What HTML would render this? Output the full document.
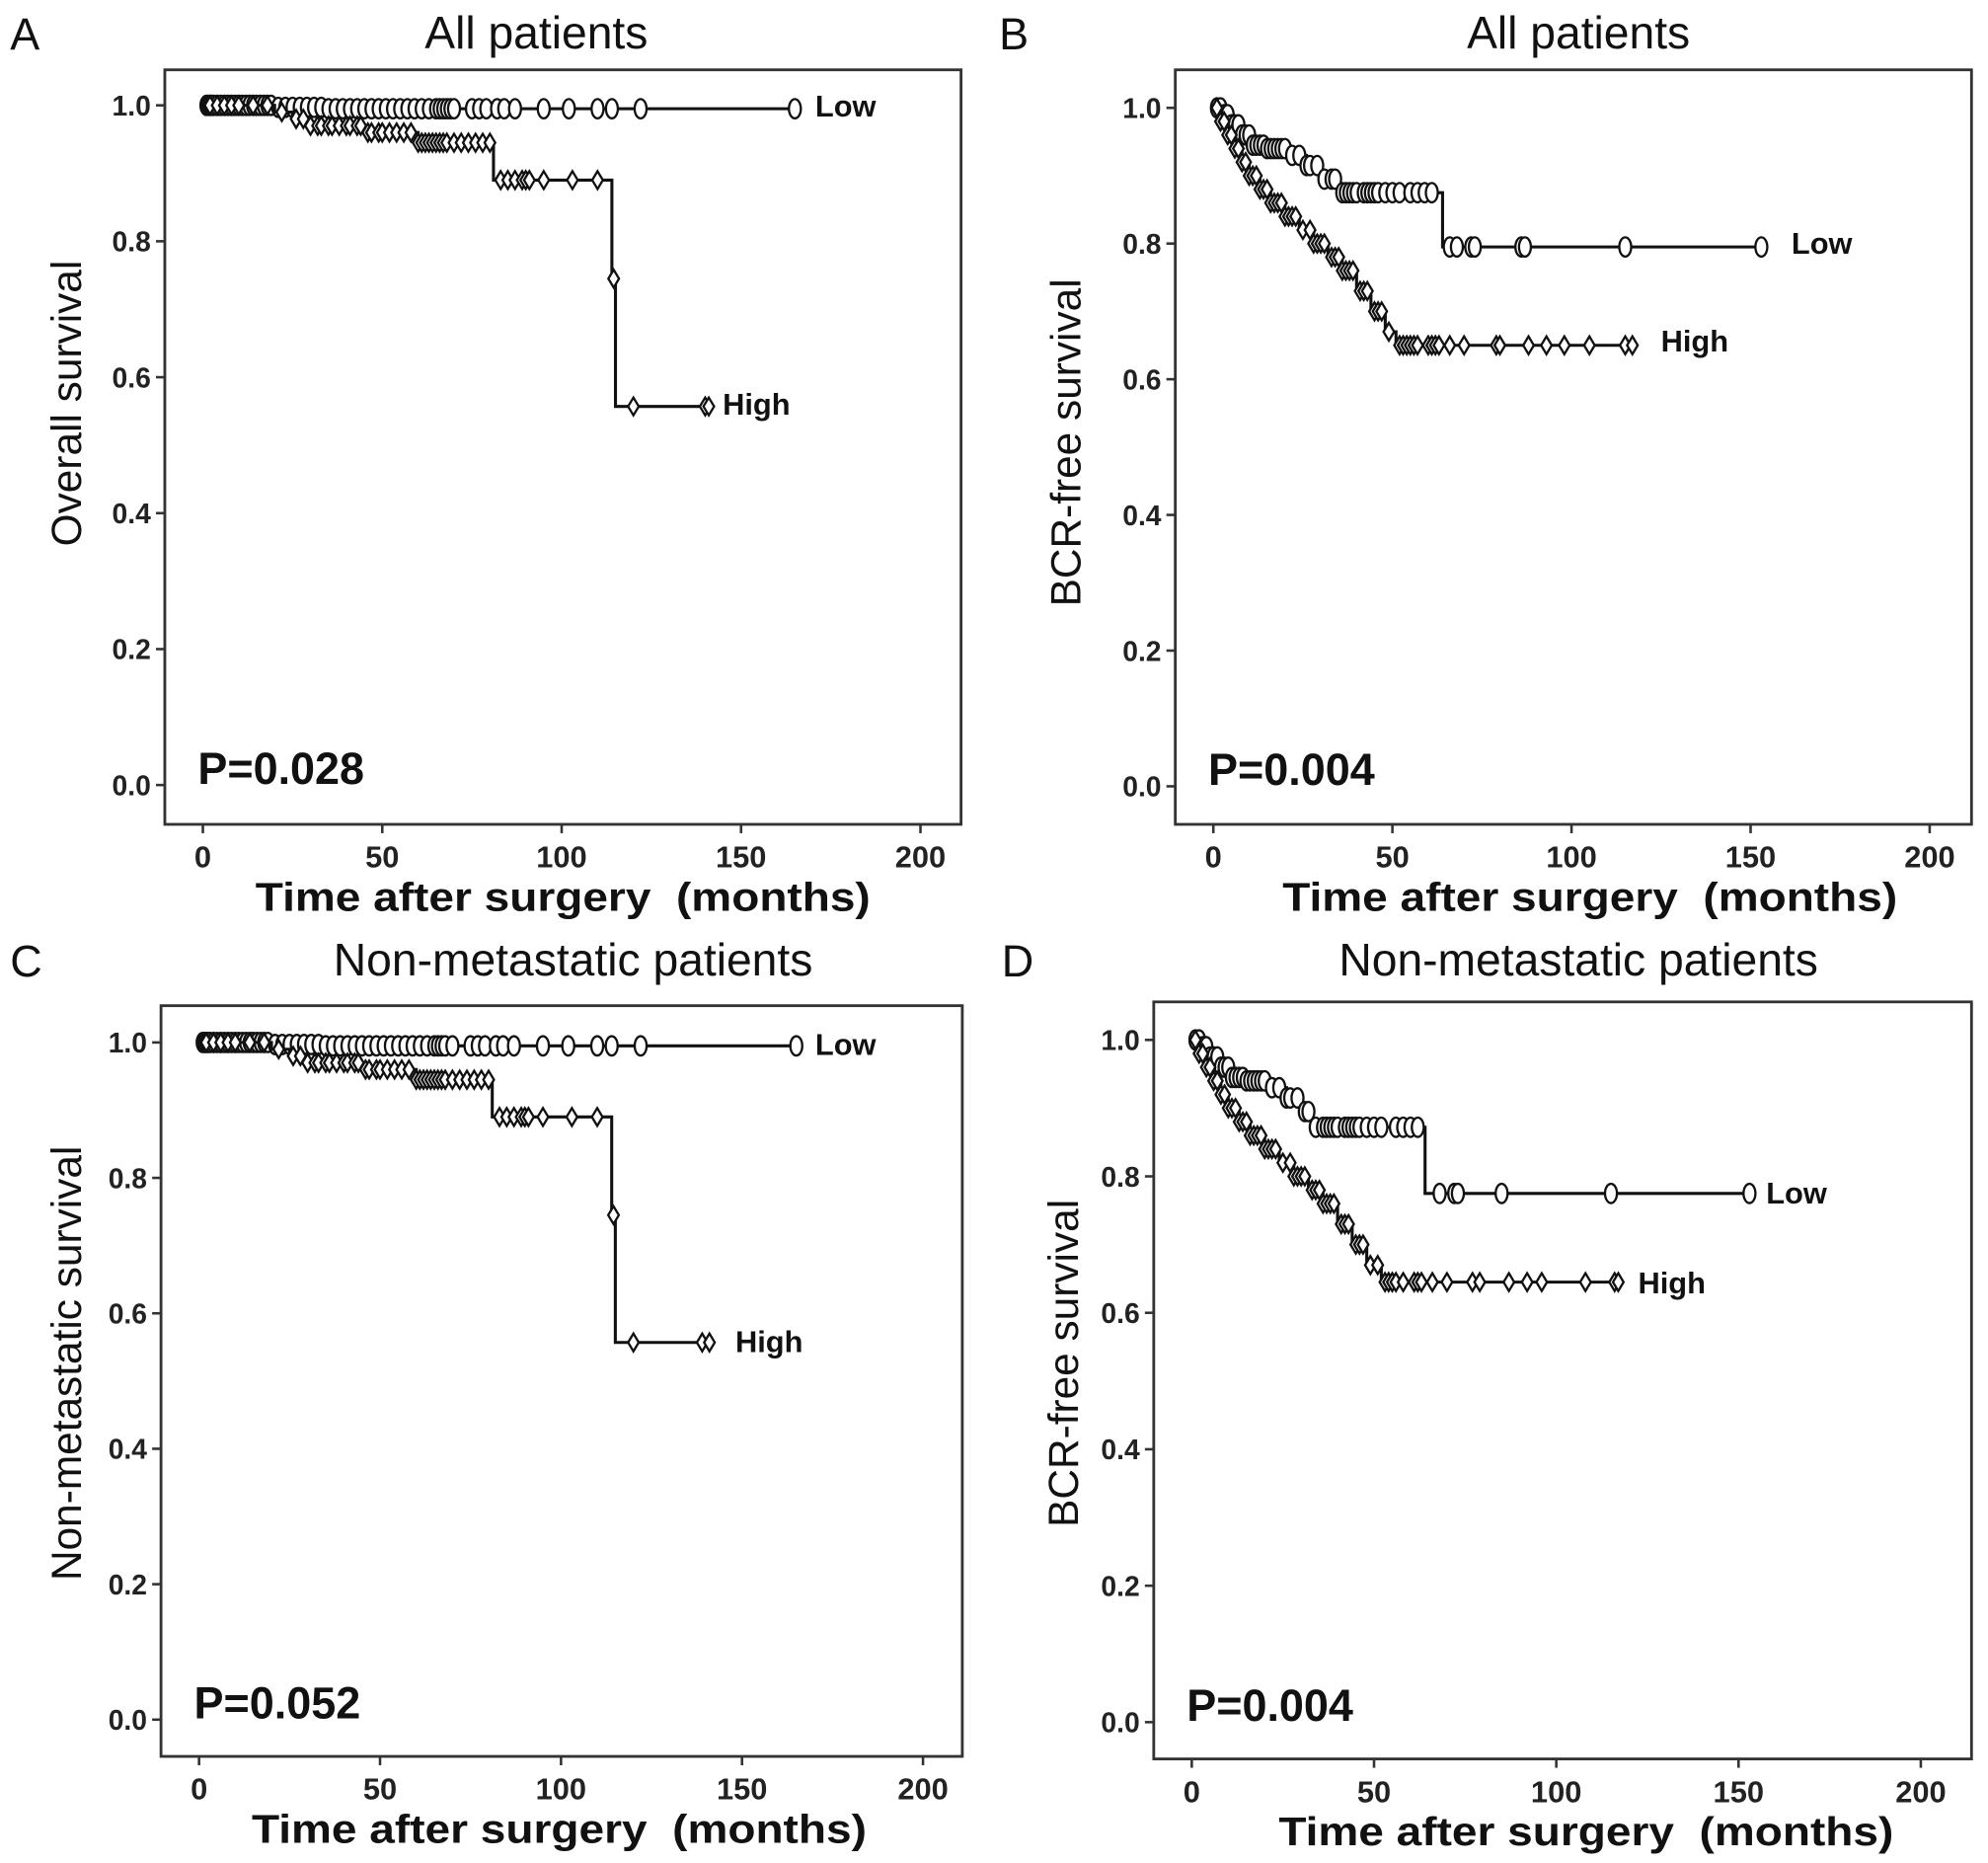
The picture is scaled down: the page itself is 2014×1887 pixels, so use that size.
<!DOCTYPE html>
<html><head><meta charset="utf-8">
<style>
html,body{margin:0;padding:0;background:#fff;}
svg{display:block;font-family:"Liberation Sans",Arial,sans-serif;}
</style></head>
<body>
<svg id="fig" width="2014" height="1887" viewBox="0 0 1568 1469" xmlns="http://www.w3.org/2000/svg"></svg>
<script>
// ---- Data (time in months, survival proportion) ----
const xTicks = [0, 50, 100, 150, 200];
const yTicks = [0.0, 0.2, 0.4, 0.6, 0.8, 1.0];
const yTickLabels = ["0.0", "0.2", "0.4", "0.6", "0.8", "1.0"];

// Panel A
const aLowStepT = [0, 20, 35];
const aLowStepS = [1.0, 0.997, 0.995];
const aLowCens = [1,1.5,2,2.5,3,4,5,6,7,8,9,10,11,12,13,14,15,16,17,18,19,21,23,25,27,29,31,33,35,37,39,41,43,45,47,49,51,53,55,57,59,61,63,65,66,67,68,69,70,75,77,79,82,84,87,95,102,110,114,122,165];
const aHighStepT = [0, 20, 25, 30, 45, 60, 81, 114, 115];
const aHighStepS = [1.0, 0.99, 0.98, 0.97, 0.96, 0.945, 0.89, 0.745, 0.557];
const aHighCens = [2,4,6,8,10,14,18,22,26,28,30,32,33,35,36,38,40,41,43,44,46,47,49,50,52,54,56,58,60,61,62,63,64,65,66,67,68,70,72,74,76,78,80,83,85,87,89,90,91,95,103,110,114.5,120,140,141];

// Panel B
const bLowStepT = [0, 3, 5, 8, 11, 15, 21, 26, 30, 35, 64];
const bLowStepS = [1.0, 0.99, 0.975, 0.96, 0.945, 0.94, 0.93, 0.915, 0.895, 0.875, 0.795];
const bLowCens = [1,2,3,4,5,6,7,8,9,10,11,12,13,14,15,16,17,18,19,20,22,24,26,27,29,31,33,34,36,37,38,39,40,42,43,44,45,46,48,50,52,55,57,59,61,66,68,72,73,86,87,115,153];
const bHighStepT = [0, 2, 4, 6, 8, 10, 13, 16, 20, 24, 28, 32, 36, 40, 44, 48, 51];
const bHighStepS = [1.0, 0.98, 0.96, 0.94, 0.92, 0.9, 0.88, 0.86, 0.84, 0.82, 0.8, 0.78, 0.76, 0.73, 0.7, 0.67, 0.65];
const bHighCens = [1,2,3,4,5,6,7,8,9,10,11,12,13,14,15,16,17,18,19,20,21,22,23,25,27,28,29,30,31,33,34,35,36,37,38,39,41,42,43,45,46,47,49,52,53,54,55,56,57,60,61,62,63,66,70,79,80,88,93,98,105,115,117];

// Panel C
const cLowStepT = [0, 20, 35];
const cLowStepS = [1.0, 0.997, 0.995];
const cLowCens = [1,1.5,2,2.5,3,4,5,6,7,8,9,10,11,12,13,14,15,16,17,18,19,21,23,25,27,29,31,33,35,37,39,41,43,45,47,49,51,53,55,57,59,61,63,65,66,67,68,70,75,77,79,82,84,87,95,102,110,114,122,165];
const cHighStepT = [0, 20, 25, 30, 45, 60, 81, 114, 115];
const cHighStepS = [1.0, 0.99, 0.98, 0.97, 0.96, 0.945, 0.89, 0.745, 0.557];
const cHighCens = [2,4,6,8,10,14,18,22,26,28,30,32,33,35,36,38,40,41,43,44,46,47,49,50,52,54,56,58,60,61,62,63,64,65,66,67,68,70,72,74,76,78,80,83,85,87,89,90,91,95,103,110,114.5,120,139,141];

// Panel D
const dLowStepT = [0, 3, 5, 8, 11, 15, 21, 26, 30, 33, 64];
const dLowStepS = [1.0, 0.99, 0.975, 0.96, 0.945, 0.94, 0.93, 0.915, 0.895, 0.872, 0.775];
const dLowCens = [1,2,3,4,5,6,7,8,9,10,11,12,13,14,15,16,17,18,19,20,22,24,26,27,29,31,32,34,36,37,38,39,40,42,43,44,45,46,48,50,52,56,58,60,62,68,72,73,85,115,153];
const dHighStepT = [0, 2, 4, 6, 8, 10, 13, 16, 20, 24, 28, 32, 36, 40, 44, 48, 52];
const dHighStepS = [1.0, 0.98, 0.96, 0.94, 0.92, 0.9, 0.88, 0.86, 0.84, 0.82, 0.8, 0.78, 0.76, 0.73, 0.7, 0.67, 0.645];
const dHighCens = [1,2,3,4,5,6,7,8,9,10,11,12,13,14,15,16,17,18,19,20,21,22,23,25,27,28,29,30,31,33,34,35,36,37,38,39,41,42,43,45,46,47,49,51,53,54,55,56,58,61,62,63,66,70,77,79,87,92,96,108,116,117];

const panels = [
  {id:'a', letter:'A', title:'All patients', ytitle:'Overall survival', p:'P=0.028',
   frame:[130,55,758,650], x0:160, x200:726, y1:83, y0:619, titleX:423, titleY:38, letterX:8,
   low:[aLowStepT,aLowStepS,aLowCens,165], high:[aHighStepT,aHighStepS,aHighCens,141], lowLab:[643,92], highLab:[570,327], ytx:64, ycy:318, xtx:444},
  {id:'b', letter:'B', title:'All patients', ytitle:'BCR-free survival', p:'P=0.004',
   frame:[927,55,1555,650], x0:957, x200:1522, y1:85, y0:620, titleX:1245, titleY:38, letterX:788,
   low:[bLowStepT,bLowStepS,bLowCens,153], high:[bHighStepT,bHighStepS,bHighCens,117], lowLab:[1413,200], highLab:[1310,277], ytx:852, ycy:349, xtx:1254},
  {id:'c', letter:'C', title:'Non-metastatic patients', ytitle:'Non-metastatic survival', p:'P=0.052',
   frame:[127,793,759,1385], x0:157, x200:728, y1:822, y0:1356, titleX:452, titleY:769, letterX:8,
   low:[cLowStepT,cLowStepS,cLowCens,165], high:[cHighStepT,cHighStepS,cHighCens,141], lowLab:[643,832], highLab:[580,1066], ytx:64, ycy:1075, xtx:441},
  {id:'d', letter:'D', title:'Non-metastatic patients', ytitle:'BCR-free survival', p:'P=0.004',
   frame:[910,790,1555,1387], x0:940, x200:1515, y1:820, y0:1358, titleX:1245, titleY:769, letterX:790,
   low:[dLowStepT,dLowStepS,dLowCens,153], high:[dHighStepT,dHighStepS,dHighCens,117], lowLab:[1393,949], highLab:[1292,1020], ytx:850, ycy:1075, xtx:1251}
];

const NS = 'http://www.w3.org/2000/svg';
const svg = document.getElementById('fig');
function mk(tag, attrs, parent){
  const e = document.createElementNS(NS, tag);
  for (const k in attrs) e.setAttribute(k, attrs[k]);
  (parent||svg).appendChild(e);
  return e;
}
function survAt(T, S, t){
  let s = S[0];
  for (let i=0;i<T.length;i++){ if (T[i] <= t) s = S[i]; }
  return s;
}

panels.forEach(p => {
  const g = mk('g', {});
  
  
  const xs = t => p.x0 + (p.x200 - p.x0) * t / 200;
  const ys = v => p.y0 + (p.y1 - p.y0) * v;
  const [fl, ft, fr, fb] = p.frame;

  const fr_ = mk('rect', {x:fl, y:ft, width:fr-fl, height:fb-ft, fill:'none', stroke:'#333', 'stroke-width':2.2}, g);
  
  

  const lt = mk('text', {x:p.letterX, y:p.titleY+1, 'font-size':35, fill:'#111'}, g);
  lt.textContent = p.letter;
  
  

  const tt = mk('text', {x:p.titleX, y:p.titleY, 'font-size':36, 'text-anchor':'middle', fill:'#111'}, g);
  tt.textContent = p.title;
  
  

  yTicks.forEach((v, i) => {
    const y = ys(v);
    const tk = mk('line', {x1:fl-7, x2:fl, y1:y, y2:y, stroke:'#333', 'stroke-width':2}, g);
    
    
    const tl = mk('text', {x:fl-11, y:y+8, 'font-size':22, 'font-weight':'bold', 'text-anchor':'end', fill:'#222'}, g);
    tl.textContent = yTickLabels[i];
    
    
  });
  xTicks.forEach(t => {
    const x = xs(t);
    const tk = mk('line', {x1:x, x2:x, y1:fb, y2:fb+7, stroke:'#333', 'stroke-width':2}, g);
    
    
    const tl = mk('text', {x:x, y:fb+34, 'font-size':24, 'font-weight':'bold', 'text-anchor':'middle', fill:'#222'}, g);
    tl.textContent = String(t);
    
    
  });

  const xt = mk('text', {x:p.xtx, y:fb+68, 'font-size':32, 'font-weight':'bold', 'text-anchor':'middle', fill:'#111', textLength:485, lengthAdjust:'spacingAndGlyphs'}, g);
  xt.textContent = 'Time after surgery\u00a0\u00a0(months)';
  
  

  const cy = p.ycy;
  const yt = mk('text', {x:p.ytx, y:cy, 'font-size':33, 'text-anchor':'middle', fill:'#111', transform:`rotate(-90 ${p.ytx} ${cy})`}, g);
  yt.textContent = p.ytitle;
  
  

  const pv = mk('text', {x:fl+26, y:ys(0)-1, 'font-size':35, 'font-weight':'bold', fill:'#111'}, g);
  pv.textContent = p.p;
  
  

  [['low', p.low], ['high', p.high]].forEach(([name, ser]) => {
    const [T, S, C, end] = ser;
    let d = `M${xs(T[0])},${ys(S[0])}`;
    for (let i=1;i<T.length;i++){
      d += ` H${xs(T[i])} V${ys(S[i])}`;
    }
    d += ` H${xs(end)}`;
    const path = mk('path', {d:d, fill:'none', stroke:'#111', 'stroke-width':2.4}, g);
    
    
    C.forEach(t => {
      const x = xs(t);
      let y = ys(survAt(T, S, t));
      if (name === 'high' && t === 114.5) y = ys(S[T.indexOf(114)]);
      let m;
      if (name === 'low') {
        m = mk('ellipse', {cx:x, cy:y, rx:4.7, ry:7.6, fill:'#fff', stroke:'#111', 'stroke-width':1.8}, g);
      } else {
        m = mk('path', {d:`M${x},${y-7} L${x+4.2},${y} L${x},${y+7} L${x-4.2},${y} Z`, fill:'#fff', stroke:'#111', 'stroke-width':1.8}, g);
      }
      
      
    });
  });

  const ll = mk('text', {x:p.lowLab[0], y:p.lowLab[1], 'font-size':24, 'font-weight':'bold', fill:'#111'}, g);
  ll.textContent = 'Low';
  
  
  const hl = mk('text', {x:p.highLab[0], y:p.highLab[1], 'font-size':24, 'font-weight':'bold', fill:'#111'}, g);
  hl.textContent = 'High';
  
  
});
</script>
</body></html>
